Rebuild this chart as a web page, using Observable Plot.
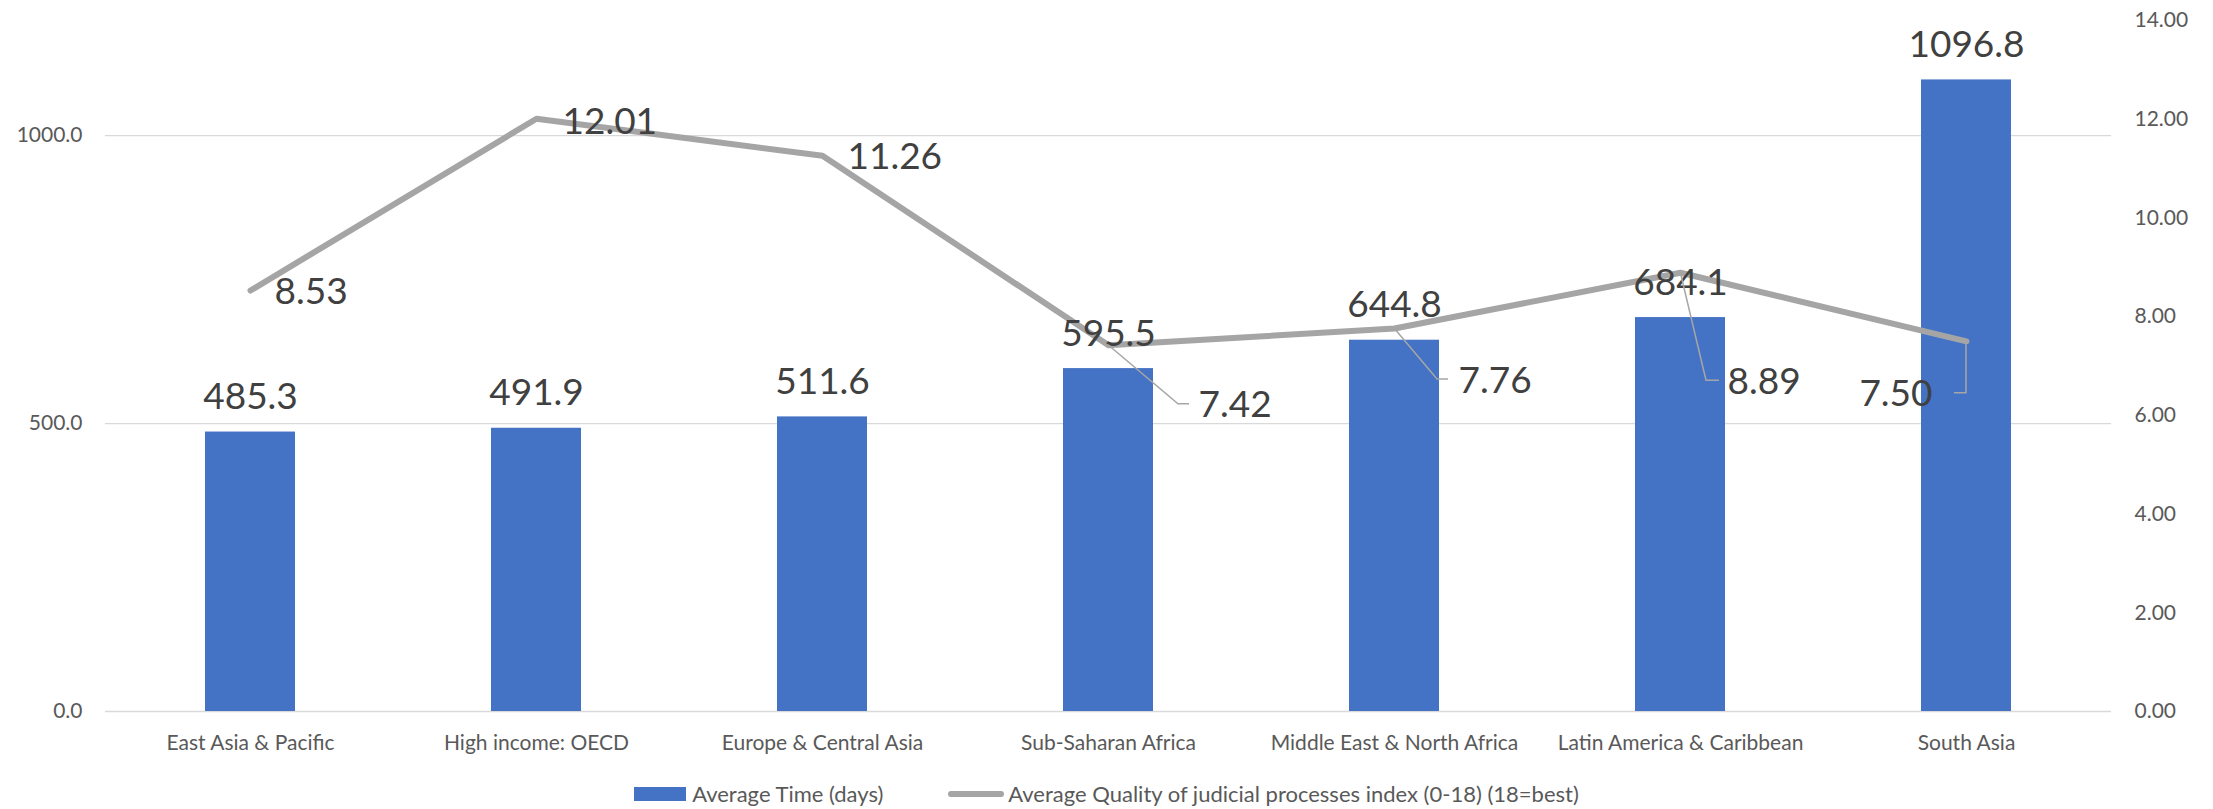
<!DOCTYPE html>
<html>
<head>
<meta charset="utf-8">
<script src="https://cdn.jsdelivr.net/npm/d3@7"></script>
<script src="https://cdn.jsdelivr.net/npm/@observablehq/plot@0.6"></script>
<style>
  html, body { margin: 0; padding: 0; background: #ffffff; }
  body { font-family: Lato, "Open Sans", sans-serif; width: 2213px; }
  #legend { display: flex; justify-content: center; align-items: center; height: 31px;
            font-size: 22px; color: #595959; font-family: Lato, sans-serif; }
  .item { display: flex; align-items: center; }
  .swatch-bar { width: 52px; height: 14px; background: #4472C4; margin-right: 6px; }
  .swatch-line { width: 56px; height: 6px; border-radius: 3px; background: #A5A5A5; margin-right: 4px; }
  .gap { width: 65px; }
</style>
</head>
<body>
<div id="chart"></div>
<div id="legend"></div>
<script>
// ---- data ----
const regions = [
  "East Asia & Pacific",
  "High income: OECD",
  "Europe & Central Asia",
  "Sub-Saharan Africa",
  "Middle East & North Africa",
  "Latin America & Caribbean",
  "South Asia"
];
const avgTimeDays = [485.3, 491.9, 511.6, 595.5, 644.8, 684.1, 1096.8];
const qualityIndex = [8.53, 12.01, 11.26, 7.42, 7.76, 8.89, 7.50];
const leftTicks = [0, 500, 1000];
const rightTicks = [0, 2, 4, 6, 8, 10, 12, 14];
const leftMax = 1200;
const rightMax = 14;
const seriesNames = ["Average Time (days)", "Average Quality of judicial processes index (0-18) (18=best)"];

// ---- layout (pixel nudges for labels, not data) ----
const lineLabelNudge = [[24, 2], [26, 3], [25, 1], [90, 60], [64, 53], [47, 109], [-34, 53]];
const leaderNudges = {
  3: [[0, 0], [70, 59], [81, 59]],
  4: [[0, 0], [43, 51], [54, 51]],
  5: [[1, 3], [26, 108], [39, 108]],
  6: [[0, 0], [0, 52], [-12, 52]]
};

const K = leftMax / rightMax;
const rows = regions.map((r, i) => ({
  region: r, time: avgTimeDays[i], quality: qualityIndex[i], qScaled: qualityIndex[i] * K
}));

const BLUE = "#4472C4", GRAY = "#A5A5A5", LABEL = "#404040", AXIS = "#595959";

const lineLabels = rows.map((d, i) => Plot.text([d], {
  x: "region", y: "qScaled", text: d => d.quality.toFixed(2),
  dx: lineLabelNudge[i][0], dy: lineLabelNudge[i][1],
  textAnchor: lineLabelNudge[i][0] < 0 ? "end" : "start",
  lineAnchor: "middle", fontSize: 37, fill: LABEL
}));

const plot = Plot.plot({
  width: 2213,
  height: 778,
  marginTop: 20,
  marginBottom: 67,
  marginLeft: 105,
  marginRight: 102,
  style: { fontFamily: "Lato, 'Open Sans', sans-serif", background: "#ffffff" },
  x: { domain: regions, paddingInner: 0.686, paddingOuter: 0.343, label: null, axis: null },
  y: { domain: [0, leftMax], label: null, axis: null },
  marks: [
    Plot.ruleY(leftTicks, { stroke: "#D9D9D9", strokeWidth: 1.4 }),
    Plot.barY(rows, { x: "region", y: "time", fill: BLUE }),
    Plot.line(rows, { x: "region", y: "qScaled", stroke: GRAY, strokeWidth: 6,
                      strokeLinecap: "round", strokeLinejoin: "round" }),
    Plot.text(rows, { x: "region", y: "time", text: d => d.time.toFixed(1),
                      dy: -23, lineAnchor: "bottom", fontSize: 37, fill: LABEL }),
    ...lineLabels,
    Plot.axisY(leftTicks, { anchor: "left", tickSize: 0, tickPadding: 23,
                            tickFormat: d => d.toFixed(1), fontSize: 21, fill: AXIS, label: null }),
    Plot.axisY(rightTicks.map(v => v * K), { anchor: "right", tickSize: 0, tickPadding: 23,
                            tickFormat: d => (d / K).toFixed(2), fontSize: 21, fill: AXIS, label: null }),
    Plot.axisX({ anchor: "bottom", tickSize: 0, tickPadding: 24, fontSize: 21, fill: AXIS, label: null })
  ]
});

document.getElementById("chart").appendChild(plot);

// leader lines, positioned through Plot's own scales
const xs = plot.scale("x"), ys = plot.scale("y");
const svg = d3.select(plot.tagName.toLowerCase() === "svg" ? plot : plot.querySelector("svg"));
const g = svg.append("g").attr("class", "leaders");
Object.entries(leaderNudges).forEach(([i, pts]) => {
  const d = rows[+i];
  const px = xs.apply(d.region) + xs.bandwidth / 2;
  const py = ys.apply(d.qScaled);
  g.append("polyline")
    .attr("points", pts.map(([dx, dy]) => `${px + dx},${py + dy}`).join(" "))
    .attr("fill", "none").attr("stroke", "#A6A6A6").attr("stroke-width", 1.5);
});

// legend
const legend = document.getElementById("legend");
legend.innerHTML = `
  <div class="item"><div class="swatch-bar"></div><span>${seriesNames[0]}</span></div>
  <div class="gap"></div>
  <div class="item"><div class="swatch-line"></div><span>${seriesNames[1]}</span></div>`;
</script>
</body>
</html>
